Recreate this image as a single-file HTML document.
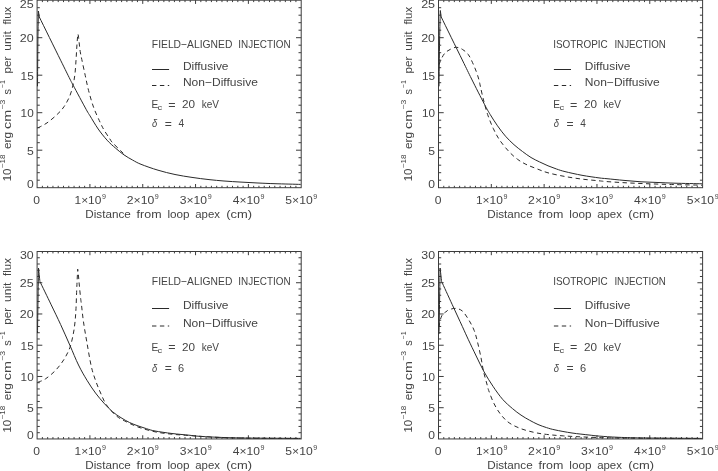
<!DOCTYPE html>
<html lang="en"><head><meta charset="utf-8"><title>Heating rate versus distance from loop apex</title>
<style>html,body{margin:0;padding:0;background:#fff}svg{display:block}text{font-family:"Liberation Sans",sans-serif;font-size:11.5px;fill:#444}.s{font-size:7.2px}</style></head><body>
<svg width="718" height="471" viewBox="0 0 718 471">
<rect width="718" height="471" fill="#fff"/>
<rect x="37.1" y="0.2" width="264.1" height="187.5" fill="none" stroke="#3c3c3c" stroke-width="1"/>
<path d="M42.38 187.7L42.38 185.8M42.38 0.2L42.38 2.1M47.66 187.7L47.66 185.8M47.66 0.2L47.66 2.1M52.95 187.7L52.95 185.8M52.95 0.2L52.95 2.1M58.23 187.7L58.23 185.8M58.23 0.2L58.23 2.1M63.51 187.7L63.51 185.8M63.51 0.2L63.51 2.1M68.79 187.7L68.79 185.8M68.79 0.2L68.79 2.1M74.07 187.7L74.07 185.8M74.07 0.2L74.07 2.1M79.36 187.7L79.36 185.8M79.36 0.2L79.36 2.1M84.64 187.7L84.64 185.8M84.64 0.2L84.64 2.1M89.92 187.7L89.92 184M89.92 0.2L89.92 3.9M95.2 187.7L95.2 185.8M95.2 0.2L95.2 2.1M100.48 187.7L100.48 185.8M100.48 0.2L100.48 2.1M105.77 187.7L105.77 185.8M105.77 0.2L105.77 2.1M111.05 187.7L111.05 185.8M111.05 0.2L111.05 2.1M116.33 187.7L116.33 185.8M116.33 0.2L116.33 2.1M121.61 187.7L121.61 185.8M121.61 0.2L121.61 2.1M126.89 187.7L126.89 185.8M126.89 0.2L126.89 2.1M132.18 187.7L132.18 185.8M132.18 0.2L132.18 2.1M137.46 187.7L137.46 185.8M137.46 0.2L137.46 2.1M142.74 187.7L142.74 184M142.74 0.2L142.74 3.9M148.02 187.7L148.02 185.8M148.02 0.2L148.02 2.1M153.3 187.7L153.3 185.8M153.3 0.2L153.3 2.1M158.59 187.7L158.59 185.8M158.59 0.2L158.59 2.1M163.87 187.7L163.87 185.8M163.87 0.2L163.87 2.1M169.15 187.7L169.15 185.8M169.15 0.2L169.15 2.1M174.43 187.7L174.43 185.8M174.43 0.2L174.43 2.1M179.71 187.7L179.71 185.8M179.71 0.2L179.71 2.1M185 187.7L185 185.8M185 0.2L185 2.1M190.28 187.7L190.28 185.8M190.28 0.2L190.28 2.1M195.56 187.7L195.56 184M195.56 0.2L195.56 3.9M200.84 187.7L200.84 185.8M200.84 0.2L200.84 2.1M206.12 187.7L206.12 185.8M206.12 0.2L206.12 2.1M211.41 187.7L211.41 185.8M211.41 0.2L211.41 2.1M216.69 187.7L216.69 185.8M216.69 0.2L216.69 2.1M221.97 187.7L221.97 185.8M221.97 0.2L221.97 2.1M227.25 187.7L227.25 185.8M227.25 0.2L227.25 2.1M232.53 187.7L232.53 185.8M232.53 0.2L232.53 2.1M237.82 187.7L237.82 185.8M237.82 0.2L237.82 2.1M243.1 187.7L243.1 185.8M243.1 0.2L243.1 2.1M248.38 187.7L248.38 184M248.38 0.2L248.38 3.9M253.66 187.7L253.66 185.8M253.66 0.2L253.66 2.1M258.94 187.7L258.94 185.8M258.94 0.2L258.94 2.1M264.23 187.7L264.23 185.8M264.23 0.2L264.23 2.1M269.51 187.7L269.51 185.8M269.51 0.2L269.51 2.1M274.79 187.7L274.79 185.8M274.79 0.2L274.79 2.1M280.07 187.7L280.07 185.8M280.07 0.2L280.07 2.1M285.35 187.7L285.35 185.8M285.35 0.2L285.35 2.1M290.64 187.7L290.64 185.8M290.64 0.2L290.64 2.1M295.92 187.7L295.92 185.8M295.92 0.2L295.92 2.1M37.1 180.2L39.8 180.2M301.2 180.2L298.5 180.2M37.1 172.7L39.8 172.7M301.2 172.7L298.5 172.7M37.1 165.2L39.8 165.2M301.2 165.2L298.5 165.2M37.1 157.7L39.8 157.7M301.2 157.7L298.5 157.7M37.1 150.2L42.3 150.2M301.2 150.2L296 150.2M37.1 142.7L39.8 142.7M301.2 142.7L298.5 142.7M37.1 135.2L39.8 135.2M301.2 135.2L298.5 135.2M37.1 127.7L39.8 127.7M301.2 127.7L298.5 127.7M37.1 120.2L39.8 120.2M301.2 120.2L298.5 120.2M37.1 112.7L42.3 112.7M301.2 112.7L296 112.7M37.1 105.2L39.8 105.2M301.2 105.2L298.5 105.2M37.1 97.7L39.8 97.7M301.2 97.7L298.5 97.7M37.1 90.2L39.8 90.2M301.2 90.2L298.5 90.2M37.1 82.7L39.8 82.7M301.2 82.7L298.5 82.7M37.1 75.2L42.3 75.2M301.2 75.2L296 75.2M37.1 67.7L39.8 67.7M301.2 67.7L298.5 67.7M37.1 60.2L39.8 60.2M301.2 60.2L298.5 60.2M37.1 52.7L39.8 52.7M301.2 52.7L298.5 52.7M37.1 45.2L39.8 45.2M301.2 45.2L298.5 45.2M37.1 37.7L42.3 37.7M301.2 37.7L296 37.7M37.1 30.2L39.8 30.2M301.2 30.2L298.5 30.2M37.1 22.7L39.8 22.7M301.2 22.7L298.5 22.7M37.1 15.2L39.8 15.2M301.2 15.2L298.5 15.2M37.1 7.7L39.8 7.7M301.2 7.7L298.5 7.7" fill="none" stroke="#3c3c3c" stroke-width="1"/>
<text x="26.93" y="188.45" textLength="6.73" lengthAdjust="spacingAndGlyphs">0</text>
<text x="26.91" y="154.7" textLength="6.79" lengthAdjust="spacingAndGlyphs">5</text>
<text x="20.61" y="117.2" textLength="13.04" lengthAdjust="spacingAndGlyphs">10</text>
<text x="20.61" y="79.7" textLength="13.08" lengthAdjust="spacingAndGlyphs">15</text>
<text x="19.78" y="42.2" textLength="13.9" lengthAdjust="spacingAndGlyphs">20</text>
<text x="19.77" y="7.7" textLength="13.94" lengthAdjust="spacingAndGlyphs">25</text>
<text x="33.33" y="203.9" textLength="6.73" lengthAdjust="spacingAndGlyphs">0</text>
<text x="74.51" y="203.9" textLength="26.87" lengthAdjust="spacingAndGlyphs">1×10</text>
<text x="101.99" y="199.1" class="s" textLength="3.96" lengthAdjust="spacingAndGlyphs">9</text>
<text x="126.73" y="203.9" textLength="27.48" lengthAdjust="spacingAndGlyphs">2×10</text>
<text x="154.81" y="199.1" class="s" textLength="3.96" lengthAdjust="spacingAndGlyphs">9</text>
<text x="179.7" y="203.9" textLength="27.33" lengthAdjust="spacingAndGlyphs">3×10</text>
<text x="207.63" y="199.1" class="s" textLength="3.96" lengthAdjust="spacingAndGlyphs">9</text>
<text x="232.72" y="203.9" textLength="27.13" lengthAdjust="spacingAndGlyphs">4×10</text>
<text x="260.45" y="199.1" class="s" textLength="3.96" lengthAdjust="spacingAndGlyphs">9</text>
<text x="285.31" y="203.9" textLength="27.35" lengthAdjust="spacingAndGlyphs">5×10</text>
<text x="313.27" y="199.1" class="s" textLength="3.96" lengthAdjust="spacingAndGlyphs">9</text>
<text x="85.34" y="217.55" textLength="45.48" lengthAdjust="spacingAndGlyphs">Distance</text>
<text x="136.63" y="217.55" textLength="24.88" lengthAdjust="spacingAndGlyphs">from</text>
<text x="167.41" y="217.55" textLength="22.17" lengthAdjust="spacingAndGlyphs">loop</text>
<text x="195.27" y="217.55" textLength="24.75" lengthAdjust="spacingAndGlyphs">apex</text>
<text x="226.3" y="217.55" textLength="25.8" lengthAdjust="spacingAndGlyphs">(cm)</text>
<text x="10.8" y="181.32" textLength="12.71" lengthAdjust="spacingAndGlyphs" transform="rotate(-90 10.8 181.32)">10</text>
<text x="5" y="168.24" class="s" textLength="13.64" lengthAdjust="spacingAndGlyphs" transform="rotate(-90 5 168.24)">−18</text>
<text x="10.8" y="149.05" textLength="17.27" lengthAdjust="spacingAndGlyphs" transform="rotate(-90 10.8 149.05)">erg</text>
<text x="10.8" y="128.95" textLength="19.03" lengthAdjust="spacingAndGlyphs" transform="rotate(-90 10.8 128.95)">cm</text>
<text x="5" y="109.58" class="s" textLength="9.9" lengthAdjust="spacingAndGlyphs" transform="rotate(-90 5 109.58)">−3</text>
<text x="10.8" y="94.55" textLength="5.49" lengthAdjust="spacingAndGlyphs" transform="rotate(-90 10.8 94.55)">s</text>
<text x="5" y="88.2" class="s" textLength="8.09" lengthAdjust="spacingAndGlyphs" transform="rotate(-90 5 88.2)">−1</text>
<text x="10.8" y="73.5" textLength="16.94" lengthAdjust="spacingAndGlyphs" transform="rotate(-90 10.8 73.5)">per</text>
<text x="10.8" y="50.72" textLength="19.46" lengthAdjust="spacingAndGlyphs" transform="rotate(-90 10.8 50.72)">unit</text>
<text x="10.8" y="24.61" textLength="17.88" lengthAdjust="spacingAndGlyphs" transform="rotate(-90 10.8 24.61)">flux</text>
<text x="151.85" y="48.3" textLength="80.53" lengthAdjust="spacingAndGlyphs">FIELD−ALIGNED</text>
<text x="238.29" y="48.3" textLength="52.31" lengthAdjust="spacingAndGlyphs">INJECTION</text>
<path d="M152 69.5L169.1 69.5" fill="none" stroke="#2a2a2a" stroke-width="1"/>
<text x="182.92" y="69.7" textLength="45.61" lengthAdjust="spacingAndGlyphs">Diffusive</text>
<path d="M152 85.5h17.2" fill="none" stroke="#2a2a2a" stroke-width="1" stroke-dasharray="4.4 3.5"/>
<text x="182.91" y="85.6" textLength="75.01" lengthAdjust="spacingAndGlyphs">Non−Diffusive</text>
<text x="151.42" y="107.8" textLength="6.76" lengthAdjust="spacingAndGlyphs">E</text>
<text x="157.51" y="110.4" class="s" textLength="4.63" lengthAdjust="spacingAndGlyphs">c</text>
<text x="168.2" y="108.6" textLength="7.31" lengthAdjust="spacingAndGlyphs">=</text>
<text x="182.11" y="107.8" textLength="13.03" lengthAdjust="spacingAndGlyphs">20</text>
<text x="201.63" y="107.8" textLength="17.32" lengthAdjust="spacingAndGlyphs">keV</text>
<text x="151.95" y="126.7" textLength="5.21" lengthAdjust="spacingAndGlyphs" font-style="italic">δ</text>
<text x="164.67" y="127.5" textLength="7.07" lengthAdjust="spacingAndGlyphs">=</text>
<text x="178.43" y="126.7" textLength="5.62" lengthAdjust="spacingAndGlyphs">4</text>
<path d="M37.5 86.3C37.57 78.58 37.75 52.55 37.9 40C38.05 27.45 38.32 15.83 38.4 11C38.55 12 39.15 16 39.3 17C42.85 24.2 55.5 49.87 60.6 60.2C65.7 70.53 67.78 74.78 69.9 79C72.02 83.22 70.6 80.45 73.3 85.5C76 90.55 83.32 104.25 86.1 109.3C88.88 114.35 87.98 112.52 90 115.8C92.02 119.08 95.35 124.93 98.2 129C101.05 133.07 104.22 137.02 107.1 140.2C109.98 143.38 112.68 145.65 115.5 148.1C118.32 150.55 121.17 152.92 124 154.9C126.83 156.88 129.67 158.43 132.5 160C135.33 161.57 136.75 162.6 141 164.3C145.25 166 152.33 168.5 158 170.2C163.67 171.9 169.33 173.3 175 174.5C180.67 175.7 186.33 176.55 192 177.4C197.67 178.25 203.67 179 209 179.6C214.33 180.2 218.67 180.58 224 181C229.33 181.42 235.33 181.77 241 182.1C246.67 182.43 252.33 182.73 258 183C263.67 183.27 267.88 183.47 275 183.7C282.12 183.93 296.42 184.28 300.7 184.4" fill="none" stroke="#2a2a2a" stroke-width="1"/>
<path d="M37.6 128C39.17 127.15 43.73 125.17 47 122.9C50.27 120.63 54.37 117.1 57.2 114.4C60.03 111.7 61.88 109.82 64 106.7C66.12 103.58 68.35 99.52 69.9 95.7C71.45 91.88 72.45 87.48 73.3 83.8C74.15 80.12 74.57 77.23 75 73.6C75.43 69.97 75.67 65.27 75.9 62C76.13 58.73 76.25 56.5 76.4 54C76.55 51.5 76.65 49.33 76.8 47C76.95 44.67 77.12 42.18 77.3 40C77.47 37.82 77.76 34.92 77.85 33.9C77.94 34.25 78.16 34.32 78.4 36C78.64 37.68 79 41.42 79.3 44C79.6 46.58 79.78 48.92 80.2 51.5C80.62 54.08 80.97 55.53 81.8 59.5C82.63 63.47 84.07 70.12 85.2 75.3C86.33 80.48 87.18 85.22 88.6 90.6C90.02 95.98 91.73 102.22 93.7 107.6C95.67 112.98 98.65 119.12 100.4 122.9C102.15 126.68 102.62 127.62 104.2 130.3C105.78 132.98 108.58 137.02 109.9 139C111.22 140.98 110.32 140.25 112.1 142.2C113.88 144.15 118.28 148.4 120.6 150.7C122.92 153 125.1 155.12 126 156" fill="none" stroke="#2a2a2a" stroke-width="1" stroke-dasharray="4.4 3.45"/>
<rect x="438.5" y="0.2" width="264.1" height="187.5" fill="none" stroke="#3c3c3c" stroke-width="1"/>
<path d="M443.78 187.7L443.78 185.8M443.78 0.2L443.78 2.1M449.06 187.7L449.06 185.8M449.06 0.2L449.06 2.1M454.35 187.7L454.35 185.8M454.35 0.2L454.35 2.1M459.63 187.7L459.63 185.8M459.63 0.2L459.63 2.1M464.91 187.7L464.91 185.8M464.91 0.2L464.91 2.1M470.19 187.7L470.19 185.8M470.19 0.2L470.19 2.1M475.47 187.7L475.47 185.8M475.47 0.2L475.47 2.1M480.76 187.7L480.76 185.8M480.76 0.2L480.76 2.1M486.04 187.7L486.04 185.8M486.04 0.2L486.04 2.1M491.32 187.7L491.32 184M491.32 0.2L491.32 3.9M496.6 187.7L496.6 185.8M496.6 0.2L496.6 2.1M501.88 187.7L501.88 185.8M501.88 0.2L501.88 2.1M507.17 187.7L507.17 185.8M507.17 0.2L507.17 2.1M512.45 187.7L512.45 185.8M512.45 0.2L512.45 2.1M517.73 187.7L517.73 185.8M517.73 0.2L517.73 2.1M523.01 187.7L523.01 185.8M523.01 0.2L523.01 2.1M528.29 187.7L528.29 185.8M528.29 0.2L528.29 2.1M533.58 187.7L533.58 185.8M533.58 0.2L533.58 2.1M538.86 187.7L538.86 185.8M538.86 0.2L538.86 2.1M544.14 187.7L544.14 184M544.14 0.2L544.14 3.9M549.42 187.7L549.42 185.8M549.42 0.2L549.42 2.1M554.7 187.7L554.7 185.8M554.7 0.2L554.7 2.1M559.99 187.7L559.99 185.8M559.99 0.2L559.99 2.1M565.27 187.7L565.27 185.8M565.27 0.2L565.27 2.1M570.55 187.7L570.55 185.8M570.55 0.2L570.55 2.1M575.83 187.7L575.83 185.8M575.83 0.2L575.83 2.1M581.11 187.7L581.11 185.8M581.11 0.2L581.11 2.1M586.4 187.7L586.4 185.8M586.4 0.2L586.4 2.1M591.68 187.7L591.68 185.8M591.68 0.2L591.68 2.1M596.96 187.7L596.96 184M596.96 0.2L596.96 3.9M602.24 187.7L602.24 185.8M602.24 0.2L602.24 2.1M607.52 187.7L607.52 185.8M607.52 0.2L607.52 2.1M612.81 187.7L612.81 185.8M612.81 0.2L612.81 2.1M618.09 187.7L618.09 185.8M618.09 0.2L618.09 2.1M623.37 187.7L623.37 185.8M623.37 0.2L623.37 2.1M628.65 187.7L628.65 185.8M628.65 0.2L628.65 2.1M633.93 187.7L633.93 185.8M633.93 0.2L633.93 2.1M639.22 187.7L639.22 185.8M639.22 0.2L639.22 2.1M644.5 187.7L644.5 185.8M644.5 0.2L644.5 2.1M649.78 187.7L649.78 184M649.78 0.2L649.78 3.9M655.06 187.7L655.06 185.8M655.06 0.2L655.06 2.1M660.34 187.7L660.34 185.8M660.34 0.2L660.34 2.1M665.63 187.7L665.63 185.8M665.63 0.2L665.63 2.1M670.91 187.7L670.91 185.8M670.91 0.2L670.91 2.1M676.19 187.7L676.19 185.8M676.19 0.2L676.19 2.1M681.47 187.7L681.47 185.8M681.47 0.2L681.47 2.1M686.75 187.7L686.75 185.8M686.75 0.2L686.75 2.1M692.04 187.7L692.04 185.8M692.04 0.2L692.04 2.1M697.32 187.7L697.32 185.8M697.32 0.2L697.32 2.1M438.5 180.2L441.2 180.2M702.6 180.2L699.9 180.2M438.5 172.7L441.2 172.7M702.6 172.7L699.9 172.7M438.5 165.2L441.2 165.2M702.6 165.2L699.9 165.2M438.5 157.7L441.2 157.7M702.6 157.7L699.9 157.7M438.5 150.2L443.7 150.2M702.6 150.2L697.4 150.2M438.5 142.7L441.2 142.7M702.6 142.7L699.9 142.7M438.5 135.2L441.2 135.2M702.6 135.2L699.9 135.2M438.5 127.7L441.2 127.7M702.6 127.7L699.9 127.7M438.5 120.2L441.2 120.2M702.6 120.2L699.9 120.2M438.5 112.7L443.7 112.7M702.6 112.7L697.4 112.7M438.5 105.2L441.2 105.2M702.6 105.2L699.9 105.2M438.5 97.7L441.2 97.7M702.6 97.7L699.9 97.7M438.5 90.2L441.2 90.2M702.6 90.2L699.9 90.2M438.5 82.7L441.2 82.7M702.6 82.7L699.9 82.7M438.5 75.2L443.7 75.2M702.6 75.2L697.4 75.2M438.5 67.7L441.2 67.7M702.6 67.7L699.9 67.7M438.5 60.2L441.2 60.2M702.6 60.2L699.9 60.2M438.5 52.7L441.2 52.7M702.6 52.7L699.9 52.7M438.5 45.2L441.2 45.2M702.6 45.2L699.9 45.2M438.5 37.7L443.7 37.7M702.6 37.7L697.4 37.7M438.5 30.2L441.2 30.2M702.6 30.2L699.9 30.2M438.5 22.7L441.2 22.7M702.6 22.7L699.9 22.7M438.5 15.2L441.2 15.2M702.6 15.2L699.9 15.2M438.5 7.7L441.2 7.7M702.6 7.7L699.9 7.7" fill="none" stroke="#3c3c3c" stroke-width="1"/>
<text x="428.33" y="188.45" textLength="6.73" lengthAdjust="spacingAndGlyphs">0</text>
<text x="428.31" y="154.7" textLength="6.79" lengthAdjust="spacingAndGlyphs">5</text>
<text x="422.01" y="117.2" textLength="13.04" lengthAdjust="spacingAndGlyphs">10</text>
<text x="422.01" y="79.7" textLength="13.08" lengthAdjust="spacingAndGlyphs">15</text>
<text x="421.18" y="42.2" textLength="13.9" lengthAdjust="spacingAndGlyphs">20</text>
<text x="421.17" y="7.7" textLength="13.94" lengthAdjust="spacingAndGlyphs">25</text>
<text x="434.73" y="203.9" textLength="6.73" lengthAdjust="spacingAndGlyphs">0</text>
<text x="475.91" y="203.9" textLength="26.87" lengthAdjust="spacingAndGlyphs">1×10</text>
<text x="503.39" y="199.1" class="s" textLength="3.96" lengthAdjust="spacingAndGlyphs">9</text>
<text x="528.13" y="203.9" textLength="27.48" lengthAdjust="spacingAndGlyphs">2×10</text>
<text x="556.21" y="199.1" class="s" textLength="3.96" lengthAdjust="spacingAndGlyphs">9</text>
<text x="581.1" y="203.9" textLength="27.33" lengthAdjust="spacingAndGlyphs">3×10</text>
<text x="609.03" y="199.1" class="s" textLength="3.96" lengthAdjust="spacingAndGlyphs">9</text>
<text x="634.12" y="203.9" textLength="27.13" lengthAdjust="spacingAndGlyphs">4×10</text>
<text x="661.85" y="199.1" class="s" textLength="3.96" lengthAdjust="spacingAndGlyphs">9</text>
<text x="686.71" y="203.9" textLength="27.35" lengthAdjust="spacingAndGlyphs">5×10</text>
<text x="714.67" y="199.1" class="s" textLength="3.96" lengthAdjust="spacingAndGlyphs">9</text>
<text x="487.24" y="217.55" textLength="45.48" lengthAdjust="spacingAndGlyphs">Distance</text>
<text x="538.53" y="217.55" textLength="24.88" lengthAdjust="spacingAndGlyphs">from</text>
<text x="569.31" y="217.55" textLength="22.17" lengthAdjust="spacingAndGlyphs">loop</text>
<text x="597.17" y="217.55" textLength="24.75" lengthAdjust="spacingAndGlyphs">apex</text>
<text x="628.2" y="217.55" textLength="25.8" lengthAdjust="spacingAndGlyphs">(cm)</text>
<text x="412.2" y="181.32" textLength="12.71" lengthAdjust="spacingAndGlyphs" transform="rotate(-90 412.2 181.32)">10</text>
<text x="406.4" y="168.24" class="s" textLength="13.64" lengthAdjust="spacingAndGlyphs" transform="rotate(-90 406.4 168.24)">−18</text>
<text x="412.2" y="149.05" textLength="17.27" lengthAdjust="spacingAndGlyphs" transform="rotate(-90 412.2 149.05)">erg</text>
<text x="412.2" y="128.95" textLength="19.03" lengthAdjust="spacingAndGlyphs" transform="rotate(-90 412.2 128.95)">cm</text>
<text x="406.4" y="109.58" class="s" textLength="9.9" lengthAdjust="spacingAndGlyphs" transform="rotate(-90 406.4 109.58)">−3</text>
<text x="412.2" y="94.55" textLength="5.49" lengthAdjust="spacingAndGlyphs" transform="rotate(-90 412.2 94.55)">s</text>
<text x="406.4" y="88.2" class="s" textLength="8.09" lengthAdjust="spacingAndGlyphs" transform="rotate(-90 406.4 88.2)">−1</text>
<text x="412.2" y="73.5" textLength="16.94" lengthAdjust="spacingAndGlyphs" transform="rotate(-90 412.2 73.5)">per</text>
<text x="412.2" y="50.72" textLength="19.46" lengthAdjust="spacingAndGlyphs" transform="rotate(-90 412.2 50.72)">unit</text>
<text x="412.2" y="24.61" textLength="17.88" lengthAdjust="spacingAndGlyphs" transform="rotate(-90 412.2 24.61)">flux</text>
<text x="553.19" y="48.3" textLength="54.59" lengthAdjust="spacingAndGlyphs">ISOTROPIC</text>
<text x="614.4" y="48.3" textLength="51.49" lengthAdjust="spacingAndGlyphs">INJECTION</text>
<path d="M553.9 69.5L571 69.5" fill="none" stroke="#2a2a2a" stroke-width="1"/>
<text x="584.82" y="69.7" textLength="45.61" lengthAdjust="spacingAndGlyphs">Diffusive</text>
<path d="M553.9 85.5h17.2" fill="none" stroke="#2a2a2a" stroke-width="1" stroke-dasharray="4.4 3.5"/>
<text x="584.81" y="85.6" textLength="75.01" lengthAdjust="spacingAndGlyphs">Non−Diffusive</text>
<text x="553.32" y="107.8" textLength="6.76" lengthAdjust="spacingAndGlyphs">E</text>
<text x="559.41" y="110.4" class="s" textLength="4.63" lengthAdjust="spacingAndGlyphs">c</text>
<text x="570.1" y="108.6" textLength="7.31" lengthAdjust="spacingAndGlyphs">=</text>
<text x="584.01" y="107.8" textLength="13.03" lengthAdjust="spacingAndGlyphs">20</text>
<text x="603.53" y="107.8" textLength="17.32" lengthAdjust="spacingAndGlyphs">keV</text>
<text x="553.85" y="126.7" textLength="5.21" lengthAdjust="spacingAndGlyphs" font-style="italic">δ</text>
<text x="566.57" y="127.5" textLength="7.07" lengthAdjust="spacingAndGlyphs">=</text>
<text x="580.33" y="126.7" textLength="5.62" lengthAdjust="spacingAndGlyphs">4</text>
<path d="M439 86.3C439.1 78.58 439.38 52.63 439.6 40C439.82 27.37 440.18 15.42 440.3 10.5C440.45 11.58 441.05 15.92 441.2 17C444.72 24.17 457.23 49.67 462.3 60C467.37 70.33 467.92 71.63 471.6 79C475.28 86.37 481.3 98.28 484.4 104.2C487.5 110.12 488.02 110.9 490.2 114.5C492.38 118.1 494.95 122.18 497.5 125.8C500.05 129.42 502.75 133.05 505.5 136.2C508.25 139.35 511.17 142.15 514 144.7C516.83 147.25 519.67 149.37 522.5 151.5C525.33 153.63 528.17 155.77 531 157.5C533.83 159.23 536.67 160.52 539.5 161.9C542.33 163.28 545.17 164.62 548 165.8C550.83 166.98 553.67 168.03 556.5 169C559.33 169.97 560.75 170.55 565 171.6C569.25 172.65 576.33 174.25 582 175.3C587.67 176.35 594.83 177.33 599 177.9C603.17 178.47 602.83 178.28 607 178.7C611.17 179.12 618.33 179.88 624 180.4C629.67 180.92 635.33 181.45 641 181.8C646.67 182.15 652.33 182.27 658 182.5C663.67 182.73 667.67 182.98 675 183.2C682.33 183.42 697.5 183.7 702 183.8" fill="none" stroke="#2a2a2a" stroke-width="1"/>
<path d="M439 64.6C439.48 63.47 440.85 59.78 441.9 57.8C442.95 55.82 443.88 54.12 445.3 52.7C446.72 51.28 448.57 50.2 450.4 49.3C452.23 48.4 454.32 47.3 456.3 47.3C458.28 47.3 460.32 48.12 462.3 49.3C464.28 50.48 466.52 52.23 468.2 54.4C469.88 56.57 471.05 59.43 472.4 62.3C473.75 65.17 475.2 68.65 476.3 71.6C477.4 74.55 478.33 77.6 479 80C479.67 82.4 479.55 82.67 480.3 86C481.05 89.33 482.27 95.22 483.5 100C484.73 104.78 486.08 109.98 487.7 114.7C489.32 119.42 491.22 124.08 493.2 128.3C495.18 132.52 496.98 136.13 499.6 140C502.22 143.87 505.93 148.3 508.9 151.5C511.87 154.7 514.57 157.07 517.4 159.2C520.23 161.33 522.78 162.75 525.9 164.3C529.02 165.85 532.42 167.08 536.1 168.5C539.78 169.92 543.18 171.47 548 172.8C552.82 174.13 559.33 175.45 565 176.5C570.67 177.55 576.33 178.38 582 179.1C587.67 179.82 594.83 180.38 599 180.8C603.17 181.22 602.83 181.28 607 181.6C611.17 181.92 618.33 182.38 624 182.7C629.67 183.02 635.33 183.27 641 183.5C646.67 183.73 652.33 183.92 658 184.1C663.67 184.28 667.67 184.42 675 184.6C682.33 184.78 697.5 185.1 702 185.2" fill="none" stroke="#2a2a2a" stroke-width="1" stroke-dasharray="4.4 3.45"/>
<rect x="37.1" y="251.5" width="264.1" height="187.45" fill="none" stroke="#3c3c3c" stroke-width="1"/>
<path d="M42.38 438.95L42.38 437.05M42.38 251.5L42.38 253.4M47.66 438.95L47.66 437.05M47.66 251.5L47.66 253.4M52.95 438.95L52.95 437.05M52.95 251.5L52.95 253.4M58.23 438.95L58.23 437.05M58.23 251.5L58.23 253.4M63.51 438.95L63.51 437.05M63.51 251.5L63.51 253.4M68.79 438.95L68.79 437.05M68.79 251.5L68.79 253.4M74.07 438.95L74.07 437.05M74.07 251.5L74.07 253.4M79.36 438.95L79.36 437.05M79.36 251.5L79.36 253.4M84.64 438.95L84.64 437.05M84.64 251.5L84.64 253.4M89.92 438.95L89.92 435.25M89.92 251.5L89.92 255.2M95.2 438.95L95.2 437.05M95.2 251.5L95.2 253.4M100.48 438.95L100.48 437.05M100.48 251.5L100.48 253.4M105.77 438.95L105.77 437.05M105.77 251.5L105.77 253.4M111.05 438.95L111.05 437.05M111.05 251.5L111.05 253.4M116.33 438.95L116.33 437.05M116.33 251.5L116.33 253.4M121.61 438.95L121.61 437.05M121.61 251.5L121.61 253.4M126.89 438.95L126.89 437.05M126.89 251.5L126.89 253.4M132.18 438.95L132.18 437.05M132.18 251.5L132.18 253.4M137.46 438.95L137.46 437.05M137.46 251.5L137.46 253.4M142.74 438.95L142.74 435.25M142.74 251.5L142.74 255.2M148.02 438.95L148.02 437.05M148.02 251.5L148.02 253.4M153.3 438.95L153.3 437.05M153.3 251.5L153.3 253.4M158.59 438.95L158.59 437.05M158.59 251.5L158.59 253.4M163.87 438.95L163.87 437.05M163.87 251.5L163.87 253.4M169.15 438.95L169.15 437.05M169.15 251.5L169.15 253.4M174.43 438.95L174.43 437.05M174.43 251.5L174.43 253.4M179.71 438.95L179.71 437.05M179.71 251.5L179.71 253.4M185 438.95L185 437.05M185 251.5L185 253.4M190.28 438.95L190.28 437.05M190.28 251.5L190.28 253.4M195.56 438.95L195.56 435.25M195.56 251.5L195.56 255.2M200.84 438.95L200.84 437.05M200.84 251.5L200.84 253.4M206.12 438.95L206.12 437.05M206.12 251.5L206.12 253.4M211.41 438.95L211.41 437.05M211.41 251.5L211.41 253.4M216.69 438.95L216.69 437.05M216.69 251.5L216.69 253.4M221.97 438.95L221.97 437.05M221.97 251.5L221.97 253.4M227.25 438.95L227.25 437.05M227.25 251.5L227.25 253.4M232.53 438.95L232.53 437.05M232.53 251.5L232.53 253.4M237.82 438.95L237.82 437.05M237.82 251.5L237.82 253.4M243.1 438.95L243.1 437.05M243.1 251.5L243.1 253.4M248.38 438.95L248.38 435.25M248.38 251.5L248.38 255.2M253.66 438.95L253.66 437.05M253.66 251.5L253.66 253.4M258.94 438.95L258.94 437.05M258.94 251.5L258.94 253.4M264.23 438.95L264.23 437.05M264.23 251.5L264.23 253.4M269.51 438.95L269.51 437.05M269.51 251.5L269.51 253.4M274.79 438.95L274.79 437.05M274.79 251.5L274.79 253.4M280.07 438.95L280.07 437.05M280.07 251.5L280.07 253.4M285.35 438.95L285.35 437.05M285.35 251.5L285.35 253.4M290.64 438.95L290.64 437.05M290.64 251.5L290.64 253.4M295.92 438.95L295.92 437.05M295.92 251.5L295.92 253.4M37.1 432.7L39.8 432.7M301.2 432.7L298.5 432.7M37.1 426.45L39.8 426.45M301.2 426.45L298.5 426.45M37.1 420.2L39.8 420.2M301.2 420.2L298.5 420.2M37.1 413.96L39.8 413.96M301.2 413.96L298.5 413.96M37.1 407.71L42.3 407.71M301.2 407.71L296 407.71M37.1 401.46L39.8 401.46M301.2 401.46L298.5 401.46M37.1 395.21L39.8 395.21M301.2 395.21L298.5 395.21M37.1 388.96L39.8 388.96M301.2 388.96L298.5 388.96M37.1 382.71L39.8 382.71M301.2 382.71L298.5 382.71M37.1 376.47L42.3 376.47M301.2 376.47L296 376.47M37.1 370.22L39.8 370.22M301.2 370.22L298.5 370.22M37.1 363.97L39.8 363.97M301.2 363.97L298.5 363.97M37.1 357.72L39.8 357.72M301.2 357.72L298.5 357.72M37.1 351.47L39.8 351.47M301.2 351.47L298.5 351.47M37.1 345.23L42.3 345.23M301.2 345.23L296 345.23M37.1 338.98L39.8 338.98M301.2 338.98L298.5 338.98M37.1 332.73L39.8 332.73M301.2 332.73L298.5 332.73M37.1 326.48L39.8 326.48M301.2 326.48L298.5 326.48M37.1 320.23L39.8 320.23M301.2 320.23L298.5 320.23M37.1 313.98L42.3 313.98M301.2 313.98L296 313.98M37.1 307.74L39.8 307.74M301.2 307.74L298.5 307.74M37.1 301.49L39.8 301.49M301.2 301.49L298.5 301.49M37.1 295.24L39.8 295.24M301.2 295.24L298.5 295.24M37.1 288.99L39.8 288.99M301.2 288.99L298.5 288.99M37.1 282.74L42.3 282.74M301.2 282.74L296 282.74M37.1 276.49L39.8 276.49M301.2 276.49L298.5 276.49M37.1 270.25L39.8 270.25M301.2 270.25L298.5 270.25M37.1 264L39.8 264M301.2 264L298.5 264M37.1 257.75L39.8 257.75M301.2 257.75L298.5 257.75" fill="none" stroke="#3c3c3c" stroke-width="1"/>
<text x="26.93" y="439.15" textLength="6.73" lengthAdjust="spacingAndGlyphs">0</text>
<text x="26.91" y="412.21" textLength="6.79" lengthAdjust="spacingAndGlyphs">5</text>
<text x="20.61" y="380.97" textLength="13.04" lengthAdjust="spacingAndGlyphs">10</text>
<text x="20.61" y="349.73" textLength="13.08" lengthAdjust="spacingAndGlyphs">15</text>
<text x="19.78" y="318.48" textLength="13.9" lengthAdjust="spacingAndGlyphs">20</text>
<text x="19.77" y="287.24" textLength="13.94" lengthAdjust="spacingAndGlyphs">25</text>
<text x="19.93" y="259.3" textLength="13.74" lengthAdjust="spacingAndGlyphs">30</text>
<text x="33.33" y="455.15" textLength="6.73" lengthAdjust="spacingAndGlyphs">0</text>
<text x="74.51" y="455.15" textLength="26.87" lengthAdjust="spacingAndGlyphs">1×10</text>
<text x="101.99" y="450.35" class="s" textLength="3.96" lengthAdjust="spacingAndGlyphs">9</text>
<text x="126.73" y="455.15" textLength="27.48" lengthAdjust="spacingAndGlyphs">2×10</text>
<text x="154.81" y="450.35" class="s" textLength="3.96" lengthAdjust="spacingAndGlyphs">9</text>
<text x="179.7" y="455.15" textLength="27.33" lengthAdjust="spacingAndGlyphs">3×10</text>
<text x="207.63" y="450.35" class="s" textLength="3.96" lengthAdjust="spacingAndGlyphs">9</text>
<text x="232.72" y="455.15" textLength="27.13" lengthAdjust="spacingAndGlyphs">4×10</text>
<text x="260.45" y="450.35" class="s" textLength="3.96" lengthAdjust="spacingAndGlyphs">9</text>
<text x="285.31" y="455.15" textLength="27.35" lengthAdjust="spacingAndGlyphs">5×10</text>
<text x="313.27" y="450.35" class="s" textLength="3.96" lengthAdjust="spacingAndGlyphs">9</text>
<text x="85.34" y="468.8" textLength="45.48" lengthAdjust="spacingAndGlyphs">Distance</text>
<text x="136.63" y="468.8" textLength="24.88" lengthAdjust="spacingAndGlyphs">from</text>
<text x="167.41" y="468.8" textLength="22.17" lengthAdjust="spacingAndGlyphs">loop</text>
<text x="195.27" y="468.8" textLength="24.75" lengthAdjust="spacingAndGlyphs">apex</text>
<text x="226.3" y="468.8" textLength="25.8" lengthAdjust="spacingAndGlyphs">(cm)</text>
<text x="10.8" y="432.59" textLength="12.71" lengthAdjust="spacingAndGlyphs" transform="rotate(-90 10.8 432.59)">10</text>
<text x="5" y="419.52" class="s" textLength="13.64" lengthAdjust="spacingAndGlyphs" transform="rotate(-90 5 419.52)">−18</text>
<text x="10.8" y="400.33" textLength="17.27" lengthAdjust="spacingAndGlyphs" transform="rotate(-90 10.8 400.33)">erg</text>
<text x="10.8" y="380.22" textLength="19.03" lengthAdjust="spacingAndGlyphs" transform="rotate(-90 10.8 380.22)">cm</text>
<text x="5" y="360.85" class="s" textLength="9.9" lengthAdjust="spacingAndGlyphs" transform="rotate(-90 5 360.85)">−3</text>
<text x="10.8" y="345.82" textLength="5.49" lengthAdjust="spacingAndGlyphs" transform="rotate(-90 10.8 345.82)">s</text>
<text x="5" y="339.47" class="s" textLength="8.09" lengthAdjust="spacingAndGlyphs" transform="rotate(-90 5 339.47)">−1</text>
<text x="10.8" y="324.78" textLength="16.94" lengthAdjust="spacingAndGlyphs" transform="rotate(-90 10.8 324.78)">per</text>
<text x="10.8" y="302" textLength="19.46" lengthAdjust="spacingAndGlyphs" transform="rotate(-90 10.8 302)">unit</text>
<text x="10.8" y="275.89" textLength="17.88" lengthAdjust="spacingAndGlyphs" transform="rotate(-90 10.8 275.89)">flux</text>
<text x="151.85" y="285.4" textLength="80.53" lengthAdjust="spacingAndGlyphs">FIELD−ALIGNED</text>
<text x="238.29" y="285.4" textLength="52.31" lengthAdjust="spacingAndGlyphs">INJECTION</text>
<path d="M152 308.5L169.1 308.5" fill="none" stroke="#2a2a2a" stroke-width="1"/>
<text x="182.92" y="309.2" textLength="45.61" lengthAdjust="spacingAndGlyphs">Diffusive</text>
<path d="M152 326h17.2" fill="none" stroke="#2a2a2a" stroke-width="1" stroke-dasharray="4.4 3.5"/>
<text x="182.91" y="326.7" textLength="75.01" lengthAdjust="spacingAndGlyphs">Non−Diffusive</text>
<text x="151.42" y="350.6" textLength="6.76" lengthAdjust="spacingAndGlyphs">E</text>
<text x="157.51" y="353.2" class="s" textLength="4.63" lengthAdjust="spacingAndGlyphs">c</text>
<text x="168.2" y="351.4" textLength="7.31" lengthAdjust="spacingAndGlyphs">=</text>
<text x="182.11" y="350.6" textLength="13.03" lengthAdjust="spacingAndGlyphs">20</text>
<text x="201.63" y="350.6" textLength="17.32" lengthAdjust="spacingAndGlyphs">keV</text>
<text x="151.95" y="371.6" textLength="5.21" lengthAdjust="spacingAndGlyphs" font-style="italic">δ</text>
<text x="164.67" y="372.4" textLength="7.07" lengthAdjust="spacingAndGlyphs">=</text>
<text x="178.1" y="371.6" textLength="6.13" lengthAdjust="spacingAndGlyphs">6</text>
<path d="M37.5 333C37.58 327.5 37.83 310.83 38 300C38.17 289.17 38.42 273.33 38.5 268C38.73 270.25 39.67 279.25 39.9 281.5C41.78 285.38 47.75 297.63 51.2 304.8C54.65 311.97 57.48 317.75 60.6 324.5C63.72 331.25 66.92 338.55 69.9 345.3C72.88 352.05 75.65 359.17 78.5 365C81.35 370.83 84.17 375.63 87 380.3C89.83 384.97 92.67 389.18 95.5 393C98.33 396.82 101.17 400.08 104 403.2C106.83 406.32 109.67 409.28 112.5 411.7C115.33 414.12 118.17 415.9 121 417.7C123.83 419.5 126.67 421.13 129.5 422.5C132.33 423.87 135.17 424.87 138 425.9C140.83 426.93 143.67 427.85 146.5 428.7C149.33 429.55 150.75 430.2 155 431C159.25 431.8 166.33 432.8 172 433.5C177.67 434.2 184.67 434.75 189 435.2C193.33 435.65 193.5 435.87 198 436.2C202.5 436.53 208.5 436.9 216 437.2C223.5 437.5 228.88 437.8 243 438C257.12 438.2 291.08 438.33 300.7 438.4" fill="none" stroke="#2a2a2a" stroke-width="1"/>
<path d="M37.6 382.3C38.88 381.75 42.32 380.98 45.3 379C48.28 377.02 52.38 373.67 55.5 370.4C58.62 367.13 61.6 363.22 64 359.4C66.4 355.58 68.35 351.75 69.9 347.5C71.45 343.25 72.45 338.15 73.3 333.9C74.15 329.65 74.55 326.25 75 322C75.45 317.75 75.72 313.73 76 308.4C76.28 303.07 76.5 294.9 76.7 290C76.9 285.1 77.03 282.47 77.2 279C77.37 275.53 77.62 270.83 77.7 269.2C77.82 270.17 78.15 272.53 78.4 275C78.65 277.47 78.83 280.17 79.2 284C79.57 287.83 80.22 294.5 80.6 298C80.98 301.5 81.02 301 81.5 305C81.98 309 82.6 315.77 83.5 322C84.4 328.23 85.62 335.07 86.9 342.4C88.18 349.73 89.77 359.68 91.2 366C92.63 372.32 93.93 375.8 95.5 380.3C97.07 384.8 98.77 388.88 100.6 393C102.43 397.12 103.95 401.25 106.5 405C109.05 408.75 112.92 412.87 115.9 415.5C118.88 418.13 120.72 418.88 124.4 420.8C128.08 422.72 132.9 425.17 138 427C143.1 428.83 149.33 430.6 155 431.8C160.67 433 166.33 433.58 172 434.2C177.67 434.82 181.67 434.98 189 435.5C196.33 436.02 207 436.87 216 437.3C225 437.73 228.88 437.9 243 438.1C257.12 438.3 291.08 438.43 300.7 438.5" fill="none" stroke="#2a2a2a" stroke-width="1" stroke-dasharray="4.4 3.45"/>
<rect x="438.5" y="251.5" width="264.1" height="187.45" fill="none" stroke="#3c3c3c" stroke-width="1"/>
<path d="M443.78 438.95L443.78 437.05M443.78 251.5L443.78 253.4M449.06 438.95L449.06 437.05M449.06 251.5L449.06 253.4M454.35 438.95L454.35 437.05M454.35 251.5L454.35 253.4M459.63 438.95L459.63 437.05M459.63 251.5L459.63 253.4M464.91 438.95L464.91 437.05M464.91 251.5L464.91 253.4M470.19 438.95L470.19 437.05M470.19 251.5L470.19 253.4M475.47 438.95L475.47 437.05M475.47 251.5L475.47 253.4M480.76 438.95L480.76 437.05M480.76 251.5L480.76 253.4M486.04 438.95L486.04 437.05M486.04 251.5L486.04 253.4M491.32 438.95L491.32 435.25M491.32 251.5L491.32 255.2M496.6 438.95L496.6 437.05M496.6 251.5L496.6 253.4M501.88 438.95L501.88 437.05M501.88 251.5L501.88 253.4M507.17 438.95L507.17 437.05M507.17 251.5L507.17 253.4M512.45 438.95L512.45 437.05M512.45 251.5L512.45 253.4M517.73 438.95L517.73 437.05M517.73 251.5L517.73 253.4M523.01 438.95L523.01 437.05M523.01 251.5L523.01 253.4M528.29 438.95L528.29 437.05M528.29 251.5L528.29 253.4M533.58 438.95L533.58 437.05M533.58 251.5L533.58 253.4M538.86 438.95L538.86 437.05M538.86 251.5L538.86 253.4M544.14 438.95L544.14 435.25M544.14 251.5L544.14 255.2M549.42 438.95L549.42 437.05M549.42 251.5L549.42 253.4M554.7 438.95L554.7 437.05M554.7 251.5L554.7 253.4M559.99 438.95L559.99 437.05M559.99 251.5L559.99 253.4M565.27 438.95L565.27 437.05M565.27 251.5L565.27 253.4M570.55 438.95L570.55 437.05M570.55 251.5L570.55 253.4M575.83 438.95L575.83 437.05M575.83 251.5L575.83 253.4M581.11 438.95L581.11 437.05M581.11 251.5L581.11 253.4M586.4 438.95L586.4 437.05M586.4 251.5L586.4 253.4M591.68 438.95L591.68 437.05M591.68 251.5L591.68 253.4M596.96 438.95L596.96 435.25M596.96 251.5L596.96 255.2M602.24 438.95L602.24 437.05M602.24 251.5L602.24 253.4M607.52 438.95L607.52 437.05M607.52 251.5L607.52 253.4M612.81 438.95L612.81 437.05M612.81 251.5L612.81 253.4M618.09 438.95L618.09 437.05M618.09 251.5L618.09 253.4M623.37 438.95L623.37 437.05M623.37 251.5L623.37 253.4M628.65 438.95L628.65 437.05M628.65 251.5L628.65 253.4M633.93 438.95L633.93 437.05M633.93 251.5L633.93 253.4M639.22 438.95L639.22 437.05M639.22 251.5L639.22 253.4M644.5 438.95L644.5 437.05M644.5 251.5L644.5 253.4M649.78 438.95L649.78 435.25M649.78 251.5L649.78 255.2M655.06 438.95L655.06 437.05M655.06 251.5L655.06 253.4M660.34 438.95L660.34 437.05M660.34 251.5L660.34 253.4M665.63 438.95L665.63 437.05M665.63 251.5L665.63 253.4M670.91 438.95L670.91 437.05M670.91 251.5L670.91 253.4M676.19 438.95L676.19 437.05M676.19 251.5L676.19 253.4M681.47 438.95L681.47 437.05M681.47 251.5L681.47 253.4M686.75 438.95L686.75 437.05M686.75 251.5L686.75 253.4M692.04 438.95L692.04 437.05M692.04 251.5L692.04 253.4M697.32 438.95L697.32 437.05M697.32 251.5L697.32 253.4M438.5 432.7L441.2 432.7M702.6 432.7L699.9 432.7M438.5 426.45L441.2 426.45M702.6 426.45L699.9 426.45M438.5 420.2L441.2 420.2M702.6 420.2L699.9 420.2M438.5 413.96L441.2 413.96M702.6 413.96L699.9 413.96M438.5 407.71L443.7 407.71M702.6 407.71L697.4 407.71M438.5 401.46L441.2 401.46M702.6 401.46L699.9 401.46M438.5 395.21L441.2 395.21M702.6 395.21L699.9 395.21M438.5 388.96L441.2 388.96M702.6 388.96L699.9 388.96M438.5 382.71L441.2 382.71M702.6 382.71L699.9 382.71M438.5 376.47L443.7 376.47M702.6 376.47L697.4 376.47M438.5 370.22L441.2 370.22M702.6 370.22L699.9 370.22M438.5 363.97L441.2 363.97M702.6 363.97L699.9 363.97M438.5 357.72L441.2 357.72M702.6 357.72L699.9 357.72M438.5 351.47L441.2 351.47M702.6 351.47L699.9 351.47M438.5 345.23L443.7 345.23M702.6 345.23L697.4 345.23M438.5 338.98L441.2 338.98M702.6 338.98L699.9 338.98M438.5 332.73L441.2 332.73M702.6 332.73L699.9 332.73M438.5 326.48L441.2 326.48M702.6 326.48L699.9 326.48M438.5 320.23L441.2 320.23M702.6 320.23L699.9 320.23M438.5 313.98L443.7 313.98M702.6 313.98L697.4 313.98M438.5 307.74L441.2 307.74M702.6 307.74L699.9 307.74M438.5 301.49L441.2 301.49M702.6 301.49L699.9 301.49M438.5 295.24L441.2 295.24M702.6 295.24L699.9 295.24M438.5 288.99L441.2 288.99M702.6 288.99L699.9 288.99M438.5 282.74L443.7 282.74M702.6 282.74L697.4 282.74M438.5 276.49L441.2 276.49M702.6 276.49L699.9 276.49M438.5 270.25L441.2 270.25M702.6 270.25L699.9 270.25M438.5 264L441.2 264M702.6 264L699.9 264M438.5 257.75L441.2 257.75M702.6 257.75L699.9 257.75" fill="none" stroke="#3c3c3c" stroke-width="1"/>
<text x="428.33" y="439.15" textLength="6.73" lengthAdjust="spacingAndGlyphs">0</text>
<text x="428.31" y="412.21" textLength="6.79" lengthAdjust="spacingAndGlyphs">5</text>
<text x="422.01" y="380.97" textLength="13.04" lengthAdjust="spacingAndGlyphs">10</text>
<text x="422.01" y="349.73" textLength="13.08" lengthAdjust="spacingAndGlyphs">15</text>
<text x="421.18" y="318.48" textLength="13.9" lengthAdjust="spacingAndGlyphs">20</text>
<text x="421.17" y="287.24" textLength="13.94" lengthAdjust="spacingAndGlyphs">25</text>
<text x="421.33" y="259.3" textLength="13.74" lengthAdjust="spacingAndGlyphs">30</text>
<text x="434.73" y="455.15" textLength="6.73" lengthAdjust="spacingAndGlyphs">0</text>
<text x="475.91" y="455.15" textLength="26.87" lengthAdjust="spacingAndGlyphs">1×10</text>
<text x="503.39" y="450.35" class="s" textLength="3.96" lengthAdjust="spacingAndGlyphs">9</text>
<text x="528.13" y="455.15" textLength="27.48" lengthAdjust="spacingAndGlyphs">2×10</text>
<text x="556.21" y="450.35" class="s" textLength="3.96" lengthAdjust="spacingAndGlyphs">9</text>
<text x="581.1" y="455.15" textLength="27.33" lengthAdjust="spacingAndGlyphs">3×10</text>
<text x="609.03" y="450.35" class="s" textLength="3.96" lengthAdjust="spacingAndGlyphs">9</text>
<text x="634.12" y="455.15" textLength="27.13" lengthAdjust="spacingAndGlyphs">4×10</text>
<text x="661.85" y="450.35" class="s" textLength="3.96" lengthAdjust="spacingAndGlyphs">9</text>
<text x="686.71" y="455.15" textLength="27.35" lengthAdjust="spacingAndGlyphs">5×10</text>
<text x="714.67" y="450.35" class="s" textLength="3.96" lengthAdjust="spacingAndGlyphs">9</text>
<text x="487.24" y="468.8" textLength="45.48" lengthAdjust="spacingAndGlyphs">Distance</text>
<text x="538.53" y="468.8" textLength="24.88" lengthAdjust="spacingAndGlyphs">from</text>
<text x="569.31" y="468.8" textLength="22.17" lengthAdjust="spacingAndGlyphs">loop</text>
<text x="597.17" y="468.8" textLength="24.75" lengthAdjust="spacingAndGlyphs">apex</text>
<text x="628.2" y="468.8" textLength="25.8" lengthAdjust="spacingAndGlyphs">(cm)</text>
<text x="412.2" y="432.59" textLength="12.71" lengthAdjust="spacingAndGlyphs" transform="rotate(-90 412.2 432.59)">10</text>
<text x="406.4" y="419.52" class="s" textLength="13.64" lengthAdjust="spacingAndGlyphs" transform="rotate(-90 406.4 419.52)">−18</text>
<text x="412.2" y="400.33" textLength="17.27" lengthAdjust="spacingAndGlyphs" transform="rotate(-90 412.2 400.33)">erg</text>
<text x="412.2" y="380.22" textLength="19.03" lengthAdjust="spacingAndGlyphs" transform="rotate(-90 412.2 380.22)">cm</text>
<text x="406.4" y="360.85" class="s" textLength="9.9" lengthAdjust="spacingAndGlyphs" transform="rotate(-90 406.4 360.85)">−3</text>
<text x="412.2" y="345.82" textLength="5.49" lengthAdjust="spacingAndGlyphs" transform="rotate(-90 412.2 345.82)">s</text>
<text x="406.4" y="339.47" class="s" textLength="8.09" lengthAdjust="spacingAndGlyphs" transform="rotate(-90 406.4 339.47)">−1</text>
<text x="412.2" y="324.78" textLength="16.94" lengthAdjust="spacingAndGlyphs" transform="rotate(-90 412.2 324.78)">per</text>
<text x="412.2" y="302" textLength="19.46" lengthAdjust="spacingAndGlyphs" transform="rotate(-90 412.2 302)">unit</text>
<text x="412.2" y="275.89" textLength="17.88" lengthAdjust="spacingAndGlyphs" transform="rotate(-90 412.2 275.89)">flux</text>
<text x="553.19" y="285.4" textLength="54.59" lengthAdjust="spacingAndGlyphs">ISOTROPIC</text>
<text x="614.4" y="285.4" textLength="51.49" lengthAdjust="spacingAndGlyphs">INJECTION</text>
<path d="M553.9 308.5L571 308.5" fill="none" stroke="#2a2a2a" stroke-width="1"/>
<text x="584.82" y="309.2" textLength="45.61" lengthAdjust="spacingAndGlyphs">Diffusive</text>
<path d="M553.9 326h17.2" fill="none" stroke="#2a2a2a" stroke-width="1" stroke-dasharray="4.4 3.5"/>
<text x="584.81" y="326.7" textLength="75.01" lengthAdjust="spacingAndGlyphs">Non−Diffusive</text>
<text x="553.32" y="350.6" textLength="6.76" lengthAdjust="spacingAndGlyphs">E</text>
<text x="559.41" y="353.2" class="s" textLength="4.63" lengthAdjust="spacingAndGlyphs">c</text>
<text x="570.1" y="351.4" textLength="7.31" lengthAdjust="spacingAndGlyphs">=</text>
<text x="584.01" y="350.6" textLength="13.03" lengthAdjust="spacingAndGlyphs">20</text>
<text x="603.53" y="350.6" textLength="17.32" lengthAdjust="spacingAndGlyphs">keV</text>
<text x="553.85" y="371.6" textLength="5.21" lengthAdjust="spacingAndGlyphs" font-style="italic">δ</text>
<text x="566.57" y="372.4" textLength="7.07" lengthAdjust="spacingAndGlyphs">=</text>
<text x="580" y="371.6" textLength="6.13" lengthAdjust="spacingAndGlyphs">6</text>
<path d="M439 334C439.1 328.33 439.42 311 439.6 300C439.78 289 440.02 273.33 440.1 268C440.35 270.25 441.35 279.25 441.6 281.5C443.35 285.3 448.65 296.82 452.1 304.3C455.55 311.78 459.62 320.57 462.3 326.4C464.98 332.23 465.88 334.37 468.2 339.3C470.52 344.23 473.55 350.57 476.2 356C478.85 361.43 481.3 366.85 484.1 371.9C486.9 376.95 489.92 381.73 493 386.3C496.08 390.87 499.35 395.58 502.6 399.3C505.85 403.02 509.43 405.97 512.5 408.6C515.57 411.23 518.17 413.17 521 415.1C523.83 417.03 526.67 418.63 529.5 420.2C532.33 421.77 535.17 423.27 538 424.5C540.83 425.73 543.67 426.7 546.5 427.6C549.33 428.5 550.75 429 555 429.9C559.25 430.8 566.33 432.15 572 433C577.67 433.85 584.47 434.48 589 435C593.53 435.52 594.3 435.72 599.2 436.1C604.1 436.48 610.43 436.98 618.4 437.3C626.37 437.62 633.1 437.82 647 438C660.9 438.18 692.67 438.33 701.8 438.4" fill="none" stroke="#2a2a2a" stroke-width="1"/>
<path d="M439 327C439.2 325.88 439.72 322.22 440.2 320.3C440.68 318.38 441.33 316.63 441.9 315.5C442.47 314.37 442.75 314.25 443.6 313.5C444.45 312.75 446.15 311.62 447 311C447.85 310.38 447.28 310.23 448.7 309.8C450.12 309.37 453.23 308.2 455.5 308.4C457.77 308.6 460.1 309.1 462.3 311C464.5 312.9 466.72 316.55 468.7 319.8C470.68 323.05 472.72 326.73 474.2 330.5C475.68 334.27 476.47 337.87 477.6 342.4C478.73 346.93 480.02 352.88 481 357.7C481.98 362.52 482.52 366.92 483.5 371.3C484.48 375.68 486.03 380.8 486.9 384C487.77 387.2 487.55 387.3 488.7 390.5C489.85 393.7 491.82 399.23 493.8 403.2C495.78 407.17 498.05 411.03 500.6 414.3C503.15 417.57 505.7 420.4 509.1 422.8C512.5 425.2 516.75 427.08 521 428.7C525.25 430.32 530.35 431.55 534.6 432.5C538.85 433.45 541.68 433.83 546.5 434.4C551.32 434.97 556.42 435.43 563.5 435.9C570.58 436.37 579.58 436.85 589 437.2C598.42 437.55 601.2 437.78 620 438C638.8 438.22 688.17 438.42 701.8 438.5" fill="none" stroke="#2a2a2a" stroke-width="1" stroke-dasharray="4.4 3.45"/>
</svg></body></html>
